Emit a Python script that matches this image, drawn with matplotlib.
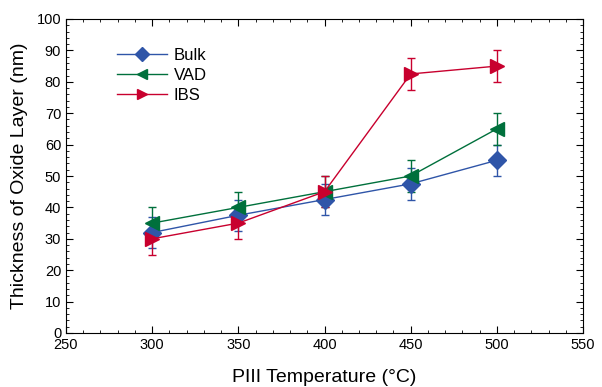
import matplotlib
matplotlib.use("Agg")
import matplotlib.pyplot as plt
from matplotlib.lines import Line2D
from matplotlib.ticker import MultipleLocator

plt.rcParams["font.family"] = ["Liberation Sans", "DejaVu Sans"]

temps = [300, 350, 400, 450, 500]
bulk = [32, 37.5, 42.5, 47.5, 55]
bulk_err = [5, 5, 5, 5, 5]
vad = [35, 40, 45, 50, 65]
vad_err = [5, 5, 5, 5, 5]
ibs = [30, 35, 45, 82.5, 85]
ibs_err = [5, 5, 5, 5, 5]

series = [
    ("Bulk", bulk, bulk_err, "#2f55a8", "D", 9),
    ("VAD", vad, vad_err, "#00703c", "<", 10),
    ("IBS", ibs, ibs_err, "#c8002e", ">", 10),
]

fig = plt.figure(figsize=(6.02, 3.87), dpi=100)
ax = fig.add_axes([66 / 602, 1 - 333 / 387, (583 - 66) / 602, (333 - 19) / 387])

handles = []
for name, y, err, color, marker, ms in series:
    ax.errorbar(temps, y, yerr=err, color=color, marker=marker, markersize=ms,
                linewidth=1, elinewidth=1, capsize=3, capthick=1)
    handles.append(Line2D([], [], color=color, marker=marker, markersize=ms * 0.75,
                          linewidth=1, label=name))

ax.set_xlim(250, 550)
ax.set_ylim(0, 100)
ax.xaxis.set_major_locator(MultipleLocator(50))
ax.xaxis.set_minor_locator(MultipleLocator(10))
ax.yaxis.set_major_locator(MultipleLocator(10))
ax.yaxis.set_minor_locator(MultipleLocator(2))
ax.tick_params(which="both", direction="in", top=True, right=True, labelsize=10.5)
ax.tick_params(which="major", length=5)
ax.tick_params(which="minor", length=2.5)

ax.set_xlabel("PIII Temperature (°C)", fontsize=14, labelpad=12)
ax.set_ylabel("Thickness of Oxide Layer (nm)", fontsize=14, labelpad=6)

ax.legend(handles=handles, loc="upper left", bbox_to_anchor=(0.07, 0.955),
          frameon=False, fontsize=12, handlelength=3, labelspacing=0.3,
          handletextpad=0.4)

fig.savefig("out.png", dpi=100)
